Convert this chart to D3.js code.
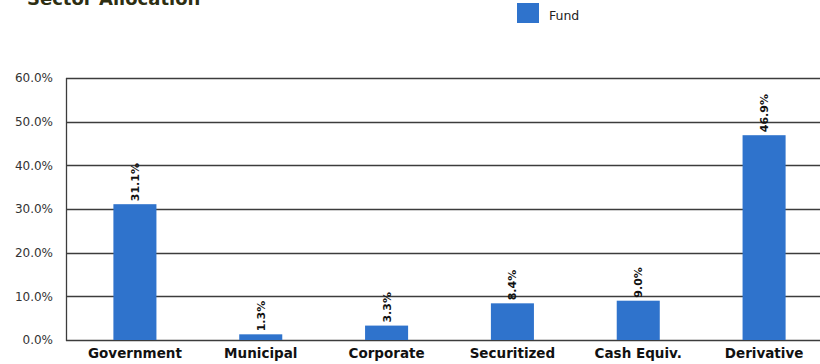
<!DOCTYPE html>
<html>
<head>
<meta charset="utf-8">
<script src="https://cdn.jsdelivr.net/npm/d3@7"></script>
<style>
  html, body { margin: 0; padding: 0; background: #fff; }
  svg { display: block; }
</style>
</head>
<body>
<svg id="chart" width="820" height="364"></svg>
<script>
// Sector allocation of the fund, in percent
const categories = ["Government", "Municipal", "Corporate", "Securitized", "Cash Equiv.", "Derivative"];
const fundValues = [31.1, 1.3, 3.3, 8.4, 9.0, 46.9];
const tickValues = [0, 10, 20, 30, 40, 50, 60];
const seriesName = "Fund";

const svg = d3.select("#chart");
const font = "DejaVu Sans, Verdana, sans-serif";
const barColor = "#2f73cc";
const lineColor = "#3c3c3c";

const plot = { left: 66, right: 840, top: 78, bottom: 340 };

const x = d3.scaleBand()
  .domain(categories)
  .range([72, 827])
  .paddingInner(0.658)
  .paddingOuter(0.329);

const y = d3.scaleLinear()
  .domain([0, 60])
  .range([plot.bottom, plot.top]);

// Title, running off the top edge of the panel
svg.append("text")
  .attr("x", 27).attr("y", 5)
  .attr("font-family", font)
  .attr("font-size", 18)
  .attr("font-weight", "bold")
  .attr("fill", "#2e2e12")
  .text("Sector Allocation");

// Legend
const legend = svg.append("g").attr("transform", "translate(517,3)");
legend.append("rect")
  .attr("width", 22).attr("height", 20)
  .attr("fill", barColor);
legend.append("text")
  .attr("x", 32).attr("y", 17)
  .attr("font-family", font)
  .attr("font-size", 12.5)
  .attr("fill", "#222")
  .text(seriesName);

// Horizontal gridlines
svg.append("g")
  .selectAll("line")
  .data(tickValues)
  .join("line")
  .attr("x1", plot.left).attr("x2", plot.right)
  .attr("y1", d => Math.round(y(d)) + 0.5)
  .attr("y2", d => Math.round(y(d)) + 0.5)
  .attr("stroke", lineColor)
  .attr("stroke-width", 1.3);

// Left frame line
svg.append("line")
  .attr("x1", plot.left + 0.5).attr("x2", plot.left + 0.5)
  .attr("y1", plot.top).attr("y2", plot.bottom + 1)
  .attr("stroke", lineColor)
  .attr("stroke-width", 1.3);

// Y axis tick labels
const yAxis = d3.axisLeft(y)
  .tickValues(tickValues)
  .tickSize(0)
  .tickPadding(13)
  .tickFormat(d => d.toFixed(1) + "%");
const yg = svg.append("g")
  .attr("transform", `translate(${plot.left},0)`)
  .call(yAxis);
yg.select(".domain").remove();
yg.selectAll("text")
  .attr("font-family", font)
  .attr("font-size", 12)
  .attr("fill", "#333");

// Bars
svg.append("g")
  .selectAll("rect")
  .data(fundValues)
  .join("rect")
  .attr("x", (d, i) => x(categories[i]))
  .attr("y", d => y(d))
  .attr("width", x.bandwidth())
  .attr("height", d => y(0) - y(d))
  .attr("fill", barColor);

// Rotated value labels above bars
svg.append("g")
  .selectAll("text")
  .data(fundValues)
  .join("text")
  .attr("transform", (d, i) =>
    `translate(${x(categories[i]) + x.bandwidth() / 2 + 4},${y(d) - 3}) rotate(-90)`)
  .attr("font-family", font)
  .attr("font-size", 11)
  .attr("font-weight", "bold")
  .attr("fill", "#111")
  .text(d => d.toFixed(1) + "%");

// Category labels
const xAxis = d3.axisBottom(x).tickSize(0).tickPadding(8);
const xg = svg.append("g")
  .attr("transform", `translate(0,${plot.bottom})`)
  .call(xAxis);
xg.select(".domain").remove();
xg.selectAll("text")
  .attr("font-family", font)
  .attr("font-size", 13.5)
  .attr("font-weight", "bold")
  .attr("fill", "#111");
</script>
</body>
</html>
